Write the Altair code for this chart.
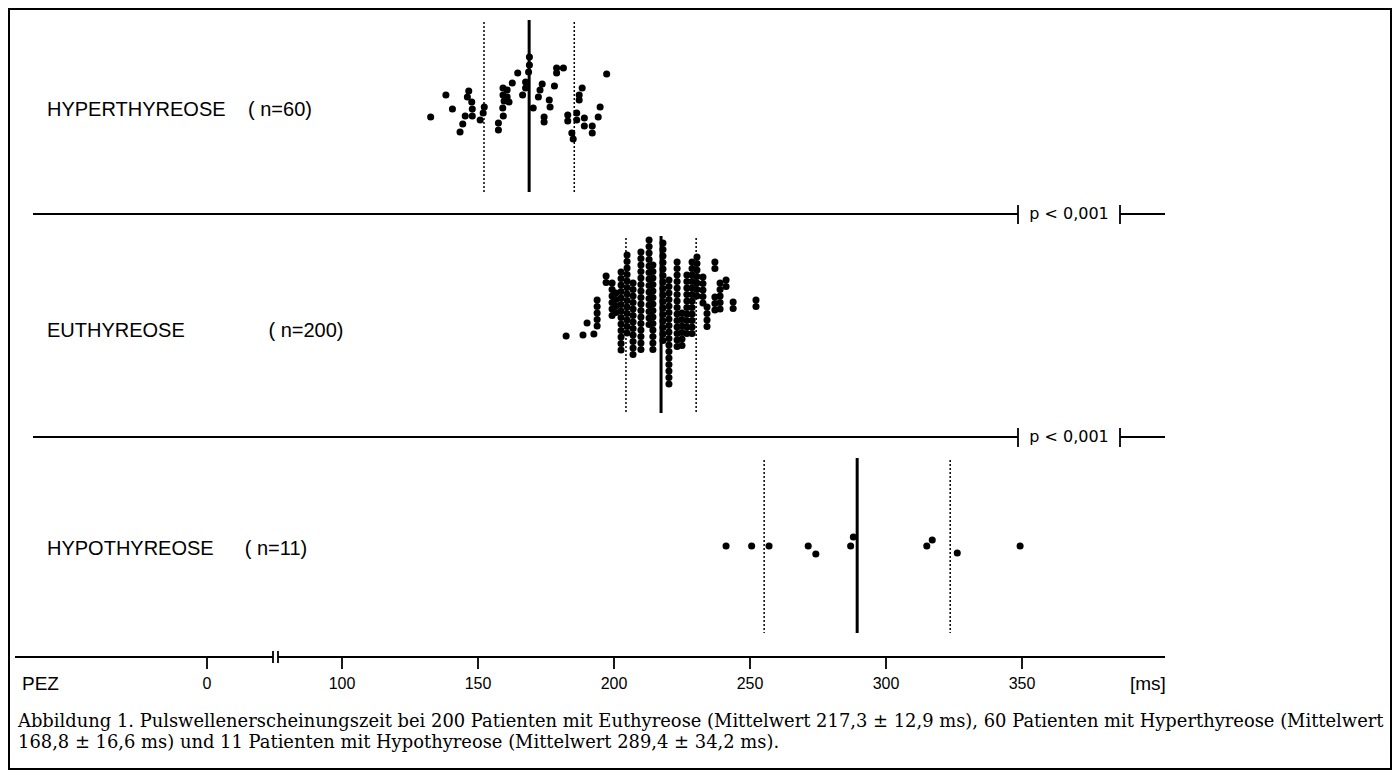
import altair as alt
import pandas as pd

W, H = 1384, 762

# ---------------- data ----------------
# Hyperthyreose: PEZ (ms) and vertical lift of each dot (px, up = positive)
hyper_ms = [132.6, 138.2, 140.6, 143.4, 144.4, 145.3, 146.6, 146.1, 147.7, 147.9,
            147.9, 150.8, 152.3, 151.9, 157.5, 157.5, 159.3, 159.1, 159.2, 160.7,
            159.2, 159.6, 162.6, 164.6, 166.4, 167.5, 167.5, 168.9, 168.9, 168.6,
            170.3, 172.2, 172.8, 173.6, 174.3, 174.3, 176.2, 176.5, 178.1, 178.9,
            178.9, 181.4, 183.0, 183.0, 184.5, 185.0, 186.3, 186.3, 187.2, 187.2,
            188.3, 189.1, 189.1, 192.0, 192.0, 194.2, 194.9, 197.3, 161.4, 160.7]
hyper_lift = [0, 22, 8, -15, -7, 1, 26, 20, 15, 8,
              1, -3, 10, 4, -6, -13, 1, 9, 29, 27,
              22, 16, 34, 44, 22, 35, 29, 60, 52, 45,
              9, 20, 27, 33, 0, -5, 17, 10, 31, 49,
              44, 49, 2, -4, -16, -22, 4, -3, 17, 22,
              29, -1, -9, -9, -16, 0, 10, 43, 15, 20]

# Euthyreose: stacked columns (value in ms, lift of top dot in px, number of dots)
eu_col_ms = [182.4, 188.6, 190.1, 192.6, 193.8, 197.1, 199.3, 200.7, 202.6, 204.8,
             207.0, 209.9, 212.9, 214.3, 218.0, 220.2, 223.2, 225.0, 226.8, 228.7,
             230.5, 232.7, 234.2, 237.1, 237.1, 239.0, 241.2, 243.8, 252.2]
eu_col_top = [-6, -5, 7, -4, 30, 54, 47, 37, 58, 75,
              47, 78, 90, 65, 87, 50, 68, 17, 55, 68,
              73, 53, 23, 68, 33, 47, 50, 28, 30]
eu_col_n = [1, 1, 1, 1, 5, 2, 6, 4, 13, 13,
            12, 16, 14, 14, 16, 17, 14, 6, 10, 12,
            7, 5, 4, 2, 3, 5, 2, 2, 2]

# Hypothyreose
hypo_ms = [241.2, 250.6, 257.0, 271.4, 274.2, 287.0, 288.0, 315.0, 317.0, 326.2, 349.3]
hypo_lift = [0, 0, 0, 0, -8, 0, 9, 0, 6, -7, 0]

# means and standard deviations (ms)
groups = ["HYPERTHYREOSE", "EUTHYREOSE", "HYPOTHYREOSE"]
counts = ["( n=60)", "( n=200)", "( n=11)"]
means = [168.8, 217.3, 289.4]
sds = [16.6, 12.9, 34.2]

tick_vals = [0, 100, 150, 200, 250, 300, 350]

# ---------------- layout (view px) ----------------
row_base = {"HYPERTHYREOSE": 109, "EUTHYREOSE": 322, "HYPOTHYREOSE": 538}
row_span = {"HYPERTHYREOSE": (12, 184), "EUTHYREOSE": (228, 405), "HYPOTHYREOSE": (450, 625)}
PITCH = 6.5

xscale = alt.Scale(domain=[0, 100, 400], range=[199, 334, 1150], nice=False, zero=False)
yscale = alt.Scale(domain=[0, H], range=[0, H], nice=False, zero=False)

rows = []
for v, l in zip(hyper_ms, hyper_lift):
    rows.append({"ms": v, "y": row_base["HYPERTHYREOSE"] - l})
for v, t, n in zip(eu_col_ms, eu_col_top, eu_col_n):
    for k in range(n):
        rows.append({"ms": v, "y": row_base["EUTHYREOSE"] - t + k * PITCH})
for v, l in zip(hypo_ms, hypo_lift):
    rows.append({"ms": v, "y": row_base["HYPOTHYREOSE"] - l})
dots = pd.DataFrame(rows)

stat_rows = []
for g, m, s in zip(groups, means, sds):
    y1, y2 = row_span[g]
    stat_rows.append({"ms": m, "y1": y1, "y2": y2, "kind": "mean"})
    stat_rows.append({"ms": m - s, "y1": y1 + 2, "y2": y2, "kind": "sd"})
    stat_rows.append({"ms": m + s, "y1": y1 + 2, "y2": y2, "kind": "sd"})
stats = pd.DataFrame(stat_rows)

X = alt.X("ms:Q", scale=xscale, axis=None)

dot_layer = alt.Chart(dots).mark_circle(size=50, color="black", opacity=1).encode(
    x=X, y=alt.Y("y:Q", scale=yscale, axis=None))

mean_layer = alt.Chart(stats).transform_filter("datum.kind == 'mean'").mark_rule(
    color="black", strokeWidth=3).encode(
    x=X, y=alt.Y("y1:Q", scale=yscale, axis=None), y2="y2:Q")
sd_layer = alt.Chart(stats).transform_filter("datum.kind == 'sd'").mark_rule(
    color="black", strokeWidth=1.5, strokeDash=[2, 2]).encode(
    x=X, y=alt.Y("y1:Q", scale=yscale, axis=None), y2="y2:Q")

# frame
frame = alt.Chart(pd.DataFrame({"a": [0]})).mark_rect(
    fill="white", stroke="black", strokeWidth=2).encode(
    x=alt.value(1), x2=alt.value(W - 1), y=alt.value(1), y2=alt.value(H - 1))

# separators, bracket and axis line segments (view px)
segs = pd.DataFrame([
    {"x1": 25, "x2": 1010, "y1": 206, "y2": 206},
    {"x1": 1112, "x2": 1157, "y1": 206, "y2": 206},
    {"x1": 1010, "x2": 1010, "y1": 197, "y2": 216},
    {"x1": 1112, "x2": 1112, "y1": 197, "y2": 216},
    {"x1": 25, "x2": 1010, "y1": 429, "y2": 429},
    {"x1": 1112, "x2": 1157, "y1": 429, "y2": 429},
    {"x1": 1010, "x2": 1010, "y1": 420, "y2": 439},
    {"x1": 1112, "x2": 1112, "y1": 420, "y2": 439},
    {"x1": 7, "x2": 265, "y1": 649, "y2": 649},
    {"x1": 270, "x2": 1157, "y1": 649, "y2": 649},
    {"x1": 265, "x2": 265, "y1": 643, "y2": 655},
    {"x1": 270, "x2": 270, "y1": 643, "y2": 655},
])
seg_layer = alt.Chart(segs).mark_rule(color="black", strokeWidth=1.8).encode(
    x=alt.X("x1:Q", scale=None), x2="x2:Q", y=alt.Y("y1:Q", scale=None), y2="y2:Q")

ticks = pd.DataFrame({"ms": tick_vals, "label": [str(t) for t in tick_vals]})
tick_layer = alt.Chart(ticks).mark_rule(color="black", strokeWidth=1.8).encode(
    x=X, y=alt.value(649), y2=alt.value(661))
tick_text = alt.Chart(ticks).mark_text(
    font="Liberation Sans", fontSize=16, baseline="middle", align="center").encode(
    x=X, y=alt.value(676), text="label:N")

# group names (left aligned) and counts (centred)
name_df = pd.DataFrame({"x": [39, 39, 39], "y": [102, 323, 541], "t": groups})
count_df = pd.DataFrame({"x": [272, 298, 268], "y": [102, 323, 541], "t": counts})
name_layer = alt.Chart(name_df).mark_text(
    font="Liberation Sans", fontSize=20, baseline="middle", align="left").encode(
    x=alt.X("x:Q", scale=None), y=alt.Y("y:Q", scale=None), text="t:N")
count_layer = alt.Chart(count_df).mark_text(
    font="Liberation Sans", fontSize=20, baseline="middle", align="center").encode(
    x=alt.X("x:Q", scale=None), y=alt.Y("y:Q", scale=None), text="t:N")

axis_words = pd.DataFrame([
    {"x": 14, "y": 676, "t": "PEZ"},
    {"x": 1122, "y": 676, "t": "[ms]"},
])
axis_word_layer = alt.Chart(axis_words).mark_text(
    font="Liberation Sans", fontSize=19, baseline="middle", align="left").encode(
    x=alt.X("x:Q", scale=None), y=alt.Y("y:Q", scale=None), text="t:N")

ptext = pd.DataFrame([{"x": 1061, "y": 206, "t": "p < 0,001"},
                      {"x": 1061, "y": 429, "t": "p < 0,001"}])
p_layer = alt.Chart(ptext).mark_text(
    font="DejaVu Sans", fontSize=16, baseline="middle", align="center").encode(
    x=alt.X("x:Q", scale=None), y=alt.Y("y:Q", scale=None), text="t:N")

caption = pd.DataFrame([
    {"x": 10, "y": 714, "t": "Abbildung 1. Pulswellenerscheinungszeit bei 200 Patienten mit Euthyreose (Mittelwert 217,3 ± 12,9 ms), 60 Patienten mit Hyperthyreose (Mittelwert"},
    {"x": 10, "y": 735, "t": "168,8 ± 16,6 ms) und 11 Patienten mit Hypothyreose (Mittelwert 289,4 ± 34,2 ms)."},
])
cap_layer = alt.Chart(caption).mark_text(
    font="DejaVu Serif", fontSize=17.9, baseline="middle", align="left").encode(
    x=alt.X("x:Q", scale=None), y=alt.Y("y:Q", scale=None), text="t:N")

chart = alt.layer(
    frame, sd_layer, mean_layer, dot_layer, seg_layer, tick_layer, tick_text,
    name_layer, count_layer, axis_word_layer, p_layer, cap_layer
).properties(width=W, height=H, padding=0, autosize="none").configure_view(
    strokeWidth=0
).configure(background="white")

chart.save("out.html", embed_options={"renderer": "svg", "actions": False})
